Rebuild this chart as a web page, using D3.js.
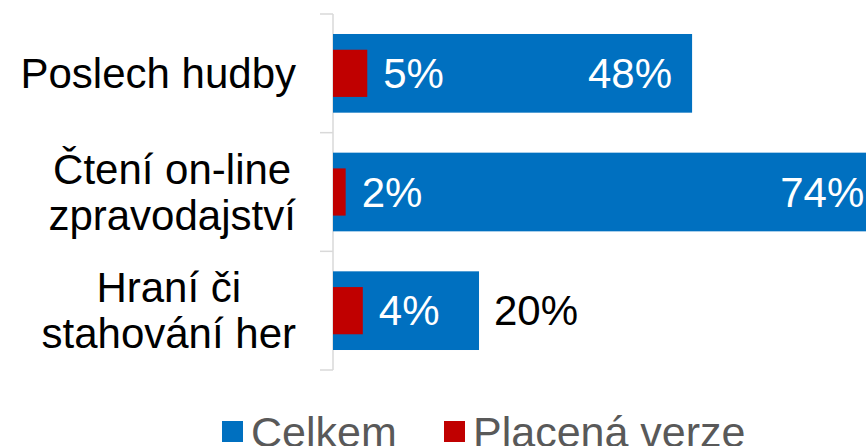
<!DOCTYPE html>
<html>
<head>
<meta charset="utf-8">
<script src="https://cdn.jsdelivr.net/npm/d3@7"></script>
<style>
  html, body { margin: 0; padding: 0; background: #fff; }
  svg { display: block; font-family: Arial, "Liberation Sans", sans-serif; }
</style>
</head>
<body>
<svg id="chart" width="866" height="446"></svg>
<script>
var categories = [["Poslech hudby"], ["Čtení on-line", "zpravodajství"], ["Hraní či", "stahování her"]];
var celkem = [48.2, 74, 19.6];
var placena = [4.6, 1.7, 4.0];
var celkemLabels = ["48%", "74%", "20%"];
var placenaLabels = ["5%", "2%", "4%"];
var keys = ["Celkem", "Placená verze"];

var svg = d3.select("#chart"),
    fs = 42,
    plotLeft = 333,
    plotTop = 14,
    plotBottom = 370,
    g = svg.append("g");

var y = d3.scaleBand()
    .domain(d3.range(categories.length))
    .range([plotTop, plotBottom])
    .paddingInner(0.337)
    .paddingOuter(0.1685);

var x = d3.scaleLinear()
    .domain([0, 100])
    .range([plotLeft, plotLeft + 745]);

var z = d3.scaleOrdinal()
    .domain(keys)
    .range(["#0070C0", "#C00000"]);

// axis line with ticks at band boundaries
var step = y.step();
var bounds = d3.range(categories.length + 1).map(function(i) { return plotTop + i * step; });
g.append("line")
    .attr("x1", plotLeft).attr("x2", plotLeft)
    .attr("y1", plotTop).attr("y2", plotBottom)
    .attr("stroke", "#d9d9d9").attr("stroke-width", 1.5);
g.selectAll(".tick")
    .data(bounds)
    .enter().append("line")
    .attr("x1", plotLeft - 13).attr("x2", plotLeft)
    .attr("y1", function(d) { return d; })
    .attr("y2", function(d) { return d; })
    .attr("stroke", "#d9d9d9").attr("stroke-width", 1.5);

// blue bars
g.selectAll(".celkem")
    .data(celkem)
    .enter().append("rect")
    .attr("x", x(0))
    .attr("y", function(d, i) { return y(i); })
    .attr("width", function(d) { return x(d) - x(0); })
    .attr("height", y.bandwidth())
    .attr("fill", z("Celkem"));

// red bars
var rh = y.bandwidth() * 0.6;
g.selectAll(".placena")
    .data(placena)
    .enter().append("rect")
    .attr("x", x(0))
    .attr("y", function(d, i) { return y(i) + (y.bandwidth() - rh) / 2; })
    .attr("width", function(d) { return x(d) - x(0); })
    .attr("height", rh)
    .attr("fill", z("Placená verze"));

// labels for red
g.selectAll(".plab")
    .data(placena)
    .enter().append("text")
    .attr("x", function(d) { return x(d) + 16; })
    .attr("y", function(d, i) { return y(i) + y.bandwidth() / 2; })
    .attr("dy", "0.35em")
    .attr("font-size", fs)
    .attr("fill", "#fff")
    .text(function(d, i) { return placenaLabels[i]; });

// labels for blue: inside end unless bar too short
g.selectAll(".clab")
    .data(celkem)
    .enter().append("text")
    .attr("x", function(d) { return d > 30 ? x(d) - 20 : x(d) + 15; })
    .attr("y", function(d, i) { return y(i) + y.bandwidth() / 2; })
    .attr("dy", "0.35em")
    .attr("font-size", fs)
    .attr("text-anchor", function(d) { return d > 30 ? "end" : "start"; })
    .attr("fill", function(d) { return d > 30 ? "#fff" : "#000"; })
    .text(function(d, i) { return celkemLabels[i]; });

// category labels, lines centred, block right-aligned
var lh = 46;
categories.forEach(function(lines, i) {
    var t = g.append("text")
        .attr("font-size", fs)
        .attr("fill", "#000")
        .attr("text-anchor", "middle");
    var cy = y(i) + y.bandwidth() / 2 - (lines.length - 1) * lh / 2;
    lines.forEach(function(s, j) {
        t.append("tspan")
            .attr("x", 0)
            .attr("y", cy + j * lh)
            .attr("dy", "0.35em")
            .text(s);
    });
    var w = t.node().getBBox().width;
    t.attr("transform", "translate(" + (296 - w / 2) + ",0)");
});

// legend
var lx = [222, 444];
var legend = g.selectAll(".legend")
    .data(keys)
    .enter().append("g")
    .attr("transform", function(d, i) { return "translate(" + lx[i] + ",421)"; });
legend.append("rect")
    .attr("width", 21)
    .attr("height", 21)
    .attr("fill", z);
legend.append("text")
    .attr("x", 29)
    .attr("y", 10.5)
    .attr("dy", "0.35em")
    .attr("font-size", 43)
    .attr("fill", "#595959")
    .text(function(d) { return d; });
</script>
</body>
</html>
